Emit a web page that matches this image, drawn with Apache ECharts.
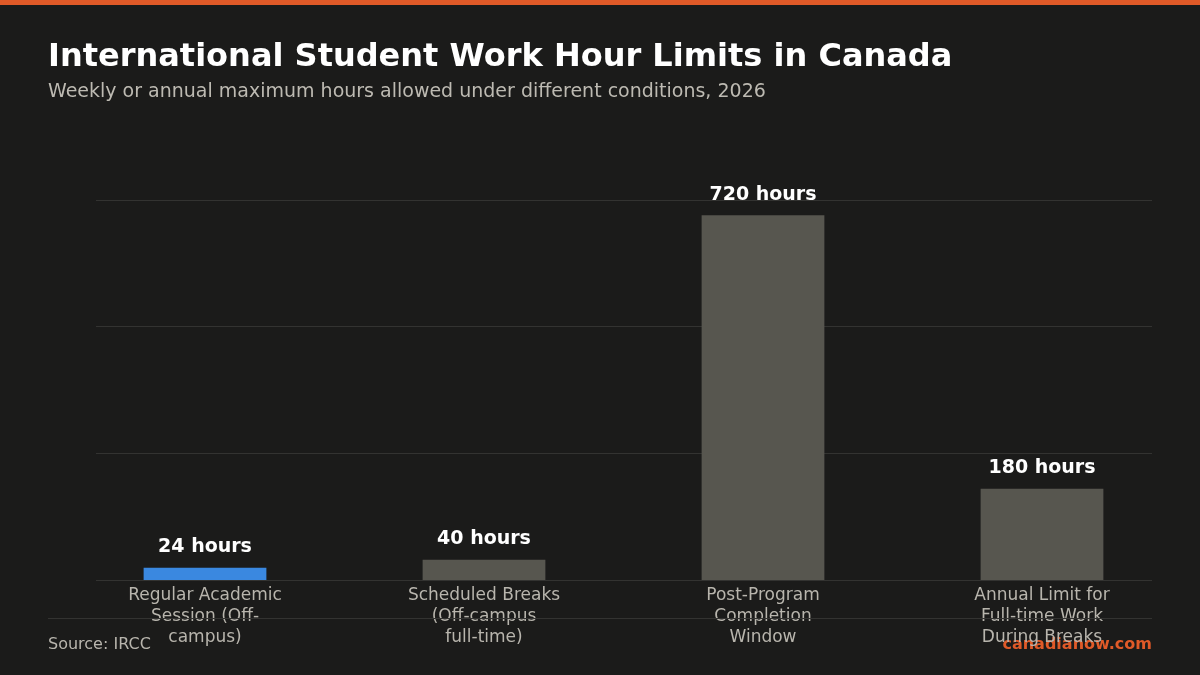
<!DOCTYPE html>
<html>
<head>
<meta charset="utf-8">
<script src="https://cdn.jsdelivr.net/npm/echarts@6/dist/echarts.min.js"></script>
<style>
  html, body { margin: 0; padding: 0; background: #1b1b1a; }
  #chart { width: 1200px; height: 675px; }
</style>
</head>
<body>
<div id="chart"></div>
<script>
// chart data
var categories = [
    'Regular Academic\nSession (Off-\ncampus)',
    'Scheduled Breaks\n(Off-campus\nfull-time)',
    'Post-Program\nCompletion\nWindow',
    'Annual Limit for\nFull-time Work\nDuring Breaks'
];
var hours = [24, 40, 720, 180];
var highlightIndex = 0;

var FONT = 'DejaVu Sans';

var myChart = echarts.init(document.getElementById('chart'));
var option = {
    backgroundColor: '#1b1b1a',
    animationDuration: 300,
    title: [{
        text: 'International Student Work Hour Limits in Canada',
        left: 48,
        top: 42,
        padding: 0,
        textStyle: { color: '#ffffff', fontSize: 32, fontWeight: 'bold', fontFamily: FONT }
    }, {
        text: 'Weekly or annual maximum hours allowed under different conditions, 2026',
        left: 48,
        top: 83,
        padding: 0,
        textStyle: { color: '#bdbab2', fontSize: 19, fontWeight: 'normal', fontFamily: FONT }
    }],
    grid: [
        // gridlines area
        { left: 96, right: 48, top: 200, bottom: 95 },
        // bars area (wider, as in the reference)
        { left: 65.5, right: 18.5, top: 200, bottom: 95 }
    ],
    xAxis: [{
        type: 'category',
        gridIndex: 0,
        data: categories,
        show: false
    }, {
        type: 'category',
        gridIndex: 1,
        data: categories,
        axisLine: { show: false },
        axisTick: { show: false },
        axisLabel: {
            color: '#b8b5ad',
            fontSize: 17,
            lineHeight: 21,
            margin: 5,
            fontFamily: FONT,
            interval: 0
        }
    }],
    yAxis: [{
        type: 'value',
        gridIndex: 0,
        min: 0,
        max: 750,
        interval: 250,
        axisLabel: { show: false },
        axisLine: { show: false },
        axisTick: { show: false },
        splitLine: { lineStyle: { color: '#333331', width: 1 } }
    }, {
        type: 'value',
        gridIndex: 1,
        min: 0,
        max: 750,
        interval: 250,
        show: false,
        splitLine: { show: false }
    }],
    series: [{
        type: 'bar',
        xAxisIndex: 1,
        yAxisIndex: 1,
        barWidth: '44%',
        data: hours.map(function (v, i) {
            return {
                value: v,
                itemStyle: { color: i === highlightIndex ? '#3a88e0' : '#57564f' }
            };
        }),
        label: {
            show: true,
            position: 'top',
            distance: 11,
            color: '#ffffff',
            fontSize: 19,
            fontWeight: 'bold',
            fontFamily: FONT,
            formatter: '{c} hours'
        }
    }],
    graphic: [
        { type: 'rect', left: 0, top: 0, shape: { width: 1200, height: 5 }, style: { fill: '#e05a28' } },
        { type: 'line', shape: { x1: 48, y1: 618.5, x2: 1152, y2: 618.5 }, style: { stroke: '#333331', lineWidth: 1 }, z: 10 },
        { type: 'text', left: 48, top: 637, style: { text: 'Source: IRCC', fill: '#b8b5ad', font: '16px ' + FONT } },
        { type: 'text', right: 48, top: 637, style: { text: 'canadianow.com', fill: '#e05a28', font: 'bold 16px ' + FONT } }
    ]
};
myChart.setOption(option);
</script>
</body>
</html>
